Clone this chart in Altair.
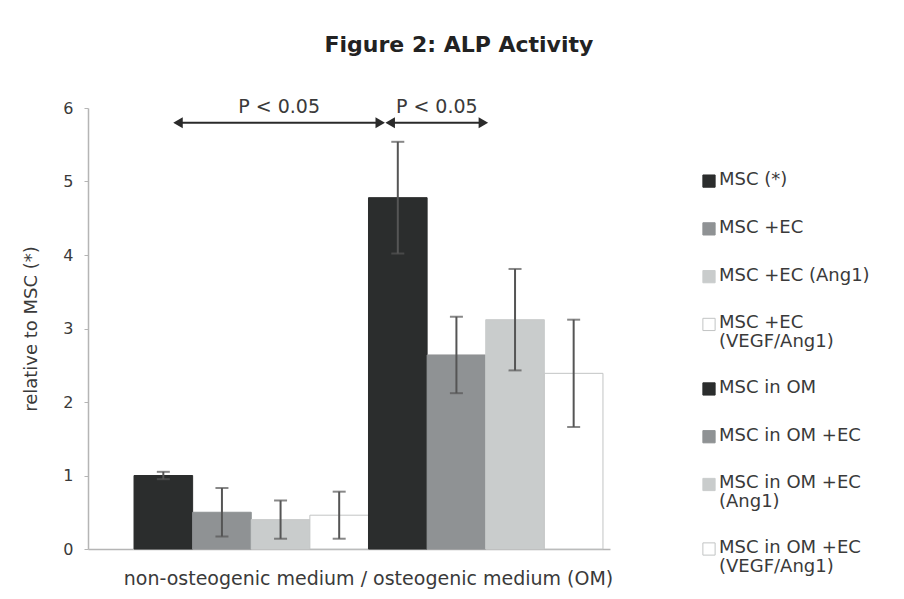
import altair as alt
import pandas as pd

# ---------------- data ----------------
groups = ["MSC (*)", "MSC +EC", "MSC +EC (Ang1)", "MSC +EC (VEGF/Ang1)",
          "MSC in OM", "MSC in OM +EC", "MSC in OM +EC (Ang1)", "MSC in OM +EC (VEGF/Ang1)"]
legend_labels = ["MSC (*)", "MSC +EC", "MSC +EC (Ang1)", "MSC +EC\n(VEGF/Ang1)",
                 "MSC in OM", "MSC in OM +EC", "MSC in OM +EC\n(Ang1)", "MSC in OM +EC\n(VEGF/Ang1)"]
values = [1.00, 0.50, 0.40, 0.46, 4.78, 2.64, 3.12, 2.39]
errors = [0.05, 0.33, 0.26, 0.32, 0.76, 0.52, 0.69, 0.73]
fill_colors = ["#2b2d2d", "#8f9294", "#c9cccc", "#ffffff",
               "#2b2d2d", "#8f9294", "#c9cccc", "#ffffff"]
stroke_colors = ["#2b2d2d", "#8f9294", "#c9cccc", "#c2c4c4",
                 "#2b2d2d", "#8f9294", "#c9cccc", "#c2c4c4"]

sig_start = [0.75, 4.37]
sig_end = [4.20, 5.96]
sig_level = [5.80, 5.80]
sig_text = ["P < 0.05", "P < 0.05"]

y_ticks = [0, 1, 2, 3, 4, 5, 6]

FONT = "DejaVu Sans"
TXT = "#3a3a3a"

# ---------------- tables ----------------
df = pd.DataFrame({"group": groups, "value": values, "err": errors})
df["idx"] = range(len(groups))
df["x0"] = df["idx"]
df["x1"] = df["idx"] + 1
df["xc"] = df["idx"] + 0.5
df["lo"] = df["value"] - df["err"]
df["hi"] = df["value"] + df["err"]

caps = pd.concat([
    pd.DataFrame({"xc": df["xc"], "yv": df["lo"]}),
    pd.DataFrame({"xc": df["xc"], "yv": df["hi"]}),
])

sig = pd.DataFrame({"s": sig_start, "e": sig_end, "y": sig_level, "t": sig_text})
sig["m"] = (sig["s"] + sig["e"]) / 2

# legend positions (extra room after wrapped labels)
pos, p = [], 0.0
for lab in legend_labels:
    pos.append(p)
    p += 1 + 0.35 * lab.count("\n")
leg = pd.DataFrame({"group": groups, "label": legend_labels, "pos": pos})

xscale = alt.Scale(domain=[-0.785, 8.12], nice=False, zero=False)
yscale = alt.Scale(domain=[0, 6], nice=False)
fill_scale = alt.Scale(domain=groups, range=fill_colors)
stroke_scale = alt.Scale(domain=groups, range=stroke_colors)

bars = alt.Chart(df).mark_bar(strokeWidth=1).encode(
    x=alt.X("x0:Q", scale=xscale,
            axis=alt.Axis(title="non-osteogenic medium / osteogenic medium (OM)",
                          labels=False, ticks=False, grid=False,
                          domainColor="#b5b5b5", domainWidth=1.5,
                          titleFont=FONT, titleFontSize=19, titleFontWeight="normal",
                          titleColor=TXT, titlePadding=20, titleX=280)),
    x2="x1:Q",
    y=alt.Y("value:Q", scale=yscale,
            axis=alt.Axis(title="relative to MSC (*)", values=y_ticks, format="d",
                          grid=False, tickSize=4, tickColor="#b5b5b5",
                          domainColor="#b5b5b5", domainWidth=1.5, labelFont=FONT,
                          labelFontSize=16, labelColor=TXT, labelPadding=11,
                          titleFont=FONT, titleFontSize=18, titleFontWeight="normal",
                          titleColor=TXT, titlePadding=22)),
    y2=alt.datum(0),
    fill=alt.Fill("group:N", scale=fill_scale, legend=None),
    stroke=alt.Stroke("group:N", scale=stroke_scale, legend=None),
)

err_rule = alt.Chart(df).mark_rule(color="#555555", strokeWidth=2).encode(
    x="xc:Q", y="lo:Q", y2="hi:Q")
err_caps = alt.Chart(caps).mark_tick(orient="horizontal", size=13, thickness=2,
                                     color="#555555").encode(x="xc:Q", y="yv:Q")

sig_line = alt.Chart(sig).mark_rule(color="#2a2a2a", strokeWidth=2).encode(
    x="s:Q", x2="e:Q", y="y:Q")
sig_left = alt.Chart(sig).mark_point(shape="triangle-left", filled=True, size=120,
                                     opacity=1, color="#2a2a2a").encode(x="s:Q", y="y:Q")
sig_right = alt.Chart(sig).mark_point(shape="triangle-right", filled=True, size=120,
                                      opacity=1, color="#2a2a2a").encode(x="e:Q", y="y:Q")
sig_lab = alt.Chart(sig).mark_text(font=FONT, fontSize=19, color=TXT, dy=-16).encode(
    x="m:Q", y="y:Q", text="t:N")

main = alt.layer(bars, err_rule, err_caps, sig_line, sig_left, sig_right, sig_lab).properties(
    width=522, height=441)

leg_y = alt.Scale(domain=[-1.53, 7.70], reverse=True, nice=False, zero=False)
leg_sw = alt.Chart(leg).mark_square(size=150, filled=True, opacity=1, strokeWidth=1).encode(
    x=alt.value(12),
    y=alt.Y("pos:Q", scale=leg_y, axis=None),
    fill=alt.Fill("group:N", scale=fill_scale, legend=None),
    stroke=alt.Stroke("group:N", scale=stroke_scale, legend=None),
)
leg_tx = alt.Chart(leg).mark_text(align="left", baseline="top", dy=-10, lineBreak="\n",
                                  lineHeight=19, font=FONT, fontSize=18, color=TXT).encode(
    x=alt.value(22),
    y=alt.Y("pos:Q", scale=leg_y, axis=None),
    text="label:N",
)
legend = alt.layer(leg_sw, leg_tx).properties(width=180, height=441)

chart = alt.hconcat(main, legend, spacing=84).properties(
    title=alt.TitleParams("Figure 2: ALP Activity", font=FONT, fontSize=22,
                          fontWeight="bold", color="#222222", anchor="middle",
                          offset=41, dx=9),
    background="white",
    padding={"left": 22, "top": 33, "right": 5, "bottom": 5},
).configure_view(stroke=None)

chart.save("out.html", embed_options={"renderer": "svg", "actions": False})
